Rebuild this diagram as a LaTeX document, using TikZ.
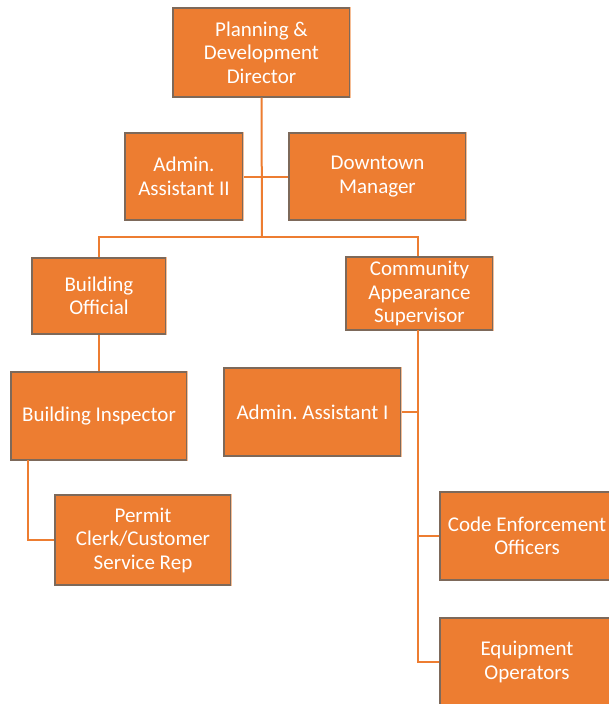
\documentclass[tikz,border=0pt]{standalone}
\usepackage{fontspec}
\setmainfont{Carlito}
\frenchspacing
\definecolor{boxfill}{RGB}{237,125,49}
\definecolor{boxedge}{RGB}{125,105,90}
\definecolor{boxlight}{RGB}{246,190,150}
\definecolor{linkcol}{RGB}{237,125,49}
\tikzset{
  unit/.style={draw=boxedge, line width=1.3pt, fill=boxfill, text=white,
    align=center, inner sep=2pt, font=\fontsize{21}{23.5}\selectfont},
  link/.style={draw=linkcol, line width=2pt}
}
\newcommand{\unitbox}[6]{%
  \node[unit, minimum width=#4pt, minimum height=#5pt] (#1) at (#2,#3) {#6};
  \draw[boxlight, line width=1.3pt] (#1.north east) -- (#1.south east);
}
\begin{document}
\begin{tikzpicture}[x=1pt,y=-1pt]
\useasboundingbox (0,0) rectangle (609,704);
\fill[white] (0,0) rectangle (609,704);

\unitbox{dir}{261.5}{52.5}{177}{89}{Planning \&\\Development\\Director}
\unitbox{aa2}{184}{176.5}{118}{87}{Admin.\\Assistant II}
\unitbox{dm}{377.5}{176.5}{177}{87}{Downtown\\Manager}
\unitbox{bo}{99}{296}{134}{76}{Building\\Official}
\unitbox{cas}{419.5}{293.5}{147}{73}{Community\\Appearance\\Supervisor}
\unitbox{bi}{99}{416}{176}{88}{Building Inspector}
\unitbox{aa1}{312.5}{412}{177}{88}{Admin. Assistant I}
\unitbox{pc}{143}{540}{176}{90}{Permit\\Clerk/Customer\\Service Rep}
\unitbox{ceo}{527}{536}{174}{88}{Code Enforcement\\Officers}
\unitbox{eo}{527}{662}{174}{88}{Equipment\\Operators}

\coordinate (hub) at (262,237);
\coordinate (bidrop) at (28,460);
\coordinate (casdrop) at (418,330);

\draw[link] (dir.south) -- (hub);
\draw[link] (aa2.east) -- (dm.west);
\draw[link] (hub) -| (bo.north);
\draw[link] (hub) -| ([xshift=-1.5pt]cas.north);
\draw[link] (bo.south) -- (bi.north);
\draw[link] (bidrop) |- (pc.west);
\draw[link] (casdrop) |- (ceo.west);
\draw[link] (casdrop) |- (eo.west);
\draw[link] (aa1.east) -- (aa1.east -| casdrop);
\end{tikzpicture}
\end{document}
